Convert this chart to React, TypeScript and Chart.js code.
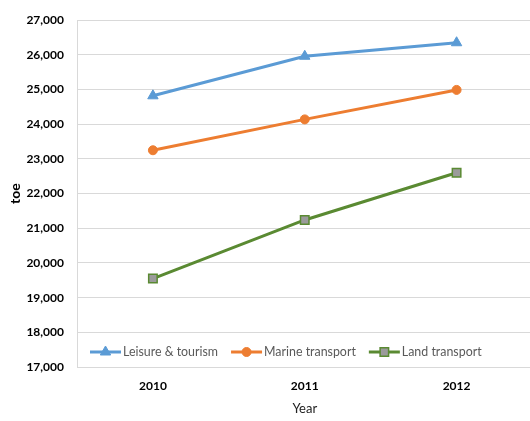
import React, { useEffect, useRef } from "react";
import { Chart, registerables } from "chart.js";

Chart.register(...registerables);

const years = ["2010", "2011", "2012"];
const leisure = [24820, 25960, 26350];
const marine = [23250, 24140, 24990];
const land = [19550, 21240, 22600];
const seriesNames = ["Leisure & tourism", "Marine transport", "Land transport"];

const FONT = "Lato, 'Open Sans', sans-serif";

const insideLegend = {
  id: "insideLegend",
  afterDraw(chart: any) {
    const ctx = chart.ctx;
    ctx.save();
    ctx.font = `12.4px ${FONT}`;
    ctx.textBaseline = "middle";
    let x = 90;
    const y = 352;
    chart.data.datasets.forEach((ds: any, i: number) => {
      const lineLen = 31;
      ctx.strokeStyle = ds.borderColor;
      ctx.lineWidth = 3;
      ctx.beginPath();
      ctx.moveTo(x, y);
      ctx.lineTo(x + lineLen, y);
      ctx.stroke();
      const meta = chart.getDatasetMeta(i);
      const el = meta.data[0];
      if (el) {
        ctx.save();
        const ox = el.x, oy = el.y;
        el.x = x + lineLen / 2;
        el.y = y;
        el.draw(ctx, chart.chartArea);
        el.x = ox;
        el.y = oy;
        ctx.restore();
      }
      ctx.fillStyle = "#595959";
      ctx.textAlign = "left";
      const tx = x + lineLen + 2;
      ctx.fillText(seriesNames[i], tx, y);
      x = tx + ctx.measureText(seriesNames[i]).width + 13;
    });
    ctx.restore();
  },
};

export default function App() {
  const ref = useRef<HTMLCanvasElement>(null);
  useEffect(() => {
    if (!ref.current) return;
    const chart = new Chart(ref.current, {
      type: "line",
      data: {
        labels: years,
        datasets: [
          {
            label: seriesNames[0],
            data: leisure,
            borderColor: "#5B9BD5",
            backgroundColor: "#5B9BD5",
            borderWidth: 3,
            pointStyle: "triangle",
            pointRadius: 6,
            pointBorderWidth: 1,
            tension: 0,
          },
          {
            label: seriesNames[1],
            data: marine,
            borderColor: "#ED7D31",
            backgroundColor: "#ED7D31",
            borderWidth: 3,
            pointStyle: "circle",
            pointRadius: 4.5,
            pointBorderWidth: 1,
            tension: 0,
          },
          {
            label: seriesNames[2],
            data: land,
            borderColor: "#5A8A32",
            backgroundColor: "#9B9B9B",
            pointBorderColor: "#5A8A32",
            borderWidth: 3,
            pointStyle: "rect",
            pointRadius: 6,
            pointBorderWidth: 1.5,
            tension: 0,
          },
        ],
      },
      options: {
        animation: false,
        responsive: false,
        maintainAspectRatio: false,
        layout: { padding: { top: 18, right: 7, left: 0, bottom: 0 } },
        plugins: {
          legend: { display: false },
          tooltip: { enabled: false },
        },
        scales: {
          x: {
            offset: true,
            grid: { display: false, drawTicks: false },
            border: { display: false },
            ticks: {
              color: "#000",
              font: { family: FONT, size: 12, weight: "bold" },
              padding: 12,
            },
            title: {
              display: true,
              text: "Year",
              color: "#222",
              font: { family: FONT, size: 13 },
              padding: { top: 4, bottom: 4 },
            },
            afterFit(scale: any) {
              scale.height = 54;
            },
          },
          y: {
            min: 17000,
            max: 27000,
            ticks: {
              stepSize: 1000,
              color: "#000",
              font: { family: FONT, size: 12, weight: "bold" },
              padding: 13,
              callback: (v: any) => Number(v).toLocaleString("en-US"),
            },
            grid: { color: "#D9D9D9", lineWidth: 1, drawTicks: false },
            border: { display: true, color: "#D9D9D9" },
            title: {
              display: true,
              text: "toe",
              color: "#000",
              font: { family: FONT, size: 14, weight: "bold" },
              padding: { top: 7, bottom: 0 },
            },
            afterFit(scale: any) {
              scale.width = 77;
            },
          },
        },
      },
      plugins: [insideLegend],
    });
    return () => chart.destroy();
  }, []);
  return (
    <div style={{ position: "absolute", left: 0, top: 0, width: 540, height: 421, background: "#fff" }}>
      <canvas ref={ref} width={540} height={421} style={{ width: 540, height: 421, display: "block" }} />
    </div>
  );
}
